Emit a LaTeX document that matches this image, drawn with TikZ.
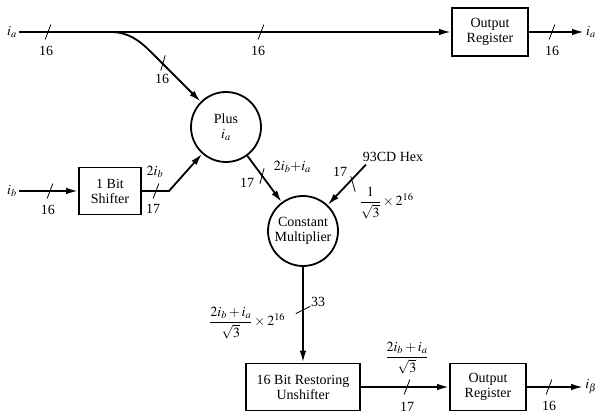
\documentclass[tikz,border=0pt]{standalone}
\usepackage{mathptmx}
\usepackage{fontspec}
\setmainfont{Liberation Serif}
\usetikzlibrary{arrows.meta}
\begin{document}
\begin{tikzpicture}[x=1pt,y=1pt,node font=\fontsize{14}{15}\selectfont,
        sig/.style={line width=1.8pt,-{Latex[length=12pt,width=6.5pt]}},
        bus/.style={line width=0.8pt},
        blk/.style={draw,line width=1.8pt,align=center,inner sep=1pt},
        op/.style={draw,circle,line width=1.8pt,minimum size=70pt,align=center,inner sep=0pt}]
        \useasboundingbox (0,0) rectangle (598,415);
        \node [inner sep=2pt] (iain) at (12,383) {$i_a$};
        \node [blk,minimum width=76pt,minimum height=48pt] (outa) at (490,383) {Output\\Register};
        \node [inner sep=2pt] (iaout) at (591,383) {$i_a$};
        \node [op] (plus) at (226,288) {Plus\\$i_a$};
        \node [inner sep=2pt] (ibin) at (12,224) {$i_b$};
        \node [blk,minimum width=62pt,minimum height=47pt] (shifter) at (110,224) {1 Bit\\Shifter};
        \node [op] (cm) at (303,184) {Constant\\Multiplier};
        \node (hex) at (393,258) {93CD Hex};
        \node [blk,minimum width=114pt,minimum height=47pt] (unshift) at (303,28) {16 Bit Restoring\\Unshifter};
        \node [blk,minimum width=76pt,minimum height=47pt] (outb) at (488,28) {Output\\Register};
        \node [inner sep=2pt] (ibout) at (591,28) {$i_\beta$};
        \coordinate (br) at (110,383);
        \coordinate (bend) at (152,362);
        \coordinate (kink) at (169,224);
        \draw [sig] (iain) -- (outa);
        \draw [sig] (outa) -- (iaout);
        \draw [sig] (br) to [out=0,in=135] (bend) -- (plus);
        \draw [sig] (ibin) -- (shifter);
        \draw [sig] (shifter) -- (kink) -- (plus);
        \draw [sig] (plus) -- (cm);
        \draw [sig] ([xshift=8pt,yshift=2pt]hex.south west) -- (cm);
        \draw [sig] (cm) -- (unshift);
        \draw [sig] (unshift) -- (outb);
        \draw [sig] (outb) -- (ibout);
        \foreach \x/\y/\ang in {48/383/69,261/383/69,552/383/69,163/352/74,50/224/69,156/224/69,262/239/75,353/231/106,303/105/27,407/28/69,549/28/69}
            \draw [bus] (\x,\y) +(\ang:8) -- +(\ang+180:8);
        \foreach \x/\y/\text in {46/364/16,258/364/16,552/364/16,162/336/16,48/205/16,153/206/17,247/232/17,340/243/17,318/113/33,407/8/17,549/9/16}
            \node at (\x,\y) {\text};
        \node at (155,243) {$2i_b$};
        \node [anchor=west] at (269,248) {$2i_b{+}i_a$};
        \node [anchor=west] at (355,212) {$\displaystyle\frac{1}{\sqrt{3}}\times 2^{16}$};
        \node [anchor=east] at (290,92) {$\displaystyle\frac{2i_b+i_a}{\sqrt{3}}\times 2^{16}$};
        \node at (407,57) {$\displaystyle\frac{2i_b+i_a}{\sqrt{3}}$};
    \end{tikzpicture}
\end{document}
